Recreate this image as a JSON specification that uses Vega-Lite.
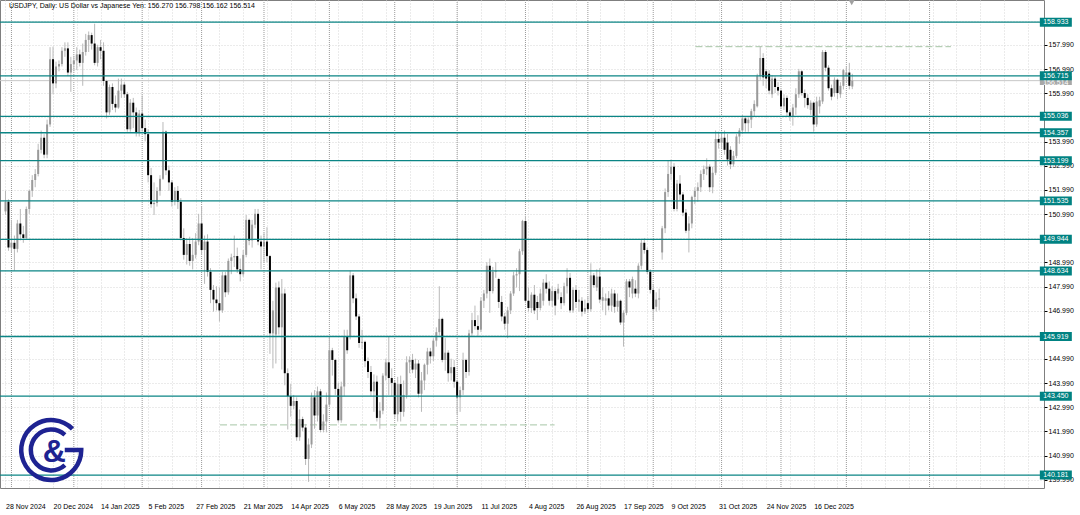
{
"$schema":"https://vega.github.io/schema/vega-lite/v6.json",
"width":1044,"height":488,"autosize":"none",
"padding":{"left":0,"top":0,"right":36,"bottom":27},
"background":"#ffffff",
"config":{"view":{"stroke":"#7f7f7f","strokeWidth":1},"font":"Liberation Sans","axis":{"labelOverlap":false,"labelBound":false,"labelFlush":false}},
"datasets":{
"seps":[{"s":2},{"s":23},{"s":46},{"s":66},{"s":87},{"s":109},{"s":131},{"s":152},{"s":175},{"s":196},{"s":218},{"s":241},{"s":261},{"s":283},{"s":311}],
"dash":[{"a":232.2,"b":318.2,"p":157.92},{"a":72.2,"b":184.8,"p":142.26}],
"levels":[{"v":158.933},{"v":156.715},{"v":155.036},{"v":154.357},{"v":153.199},{"v":151.535},{"v":149.944},{"v":148.634},{"v":145.919},{"v":143.45},{"v":140.181}],
"bid":[{"v":156.514}],
"bars":[
{"i":0,"o":151.1,"h":151.95,"l":150.95,"c":151.5},
{"i":1,"o":151.5,"h":151.6,"l":149.47,"c":149.6},
{"i":2,"o":149.6,"h":150.75,"l":149.4,"c":149.8},
{"i":3,"o":149.8,"h":150.1,"l":148.65,"c":149.55},
{"i":4,"o":149.55,"h":150.75,"l":149.4,"c":150.6},
{"i":5,"o":150.6,"h":151.2,"l":149.9,"c":150.15},
{"i":6,"o":150.15,"h":150.5,"l":149.8,"c":150.0},
{"i":7,"o":150.0,"h":151.3,"l":149.95,"c":151.2},
{"i":8,"o":151.2,"h":152.0,"l":151.0,"c":151.95},
{"i":9,"o":151.95,"h":152.6,"l":151.7,"c":152.4},
{"i":10,"o":152.4,"h":152.85,"l":152.1,"c":152.65},
{"i":11,"o":152.65,"h":153.9,"l":152.55,"c":153.65},
{"i":12,"o":153.65,"h":154.45,"l":153.5,"c":154.15},
{"i":13,"o":154.15,"h":154.3,"l":153.3,"c":153.45},
{"i":14,"o":153.45,"h":154.9,"l":153.3,"c":154.7},
{"i":15,"o":154.7,"h":157.9,"l":154.6,"c":157.4},
{"i":16,"o":157.4,"h":157.92,"l":155.95,"c":156.4},
{"i":17,"o":156.4,"h":157.3,"l":156.2,"c":157.1},
{"i":18,"o":157.1,"h":157.35,"l":156.9,"c":157.2},
{"i":19,"o":157.2,"h":157.9,"l":157.1,"c":157.75},
{"i":20,"o":157.75,"h":158.1,"l":157.5,"c":157.85},
{"i":21,"o":157.85,"h":158.1,"l":156.7,"c":156.85},
{"i":22,"o":156.85,"h":157.5,"l":156.05,"c":157.2},
{"i":23,"o":157.2,"h":157.55,"l":156.9,"c":157.35},
{"i":24,"o":157.35,"h":157.9,"l":156.95,"c":157.6},
{"i":25,"o":157.6,"h":157.8,"l":157.1,"c":157.25},
{"i":26,"o":157.25,"h":158.05,"l":156.3,"c":157.7},
{"i":27,"o":157.7,"h":158.45,"l":157.55,"c":158.2},
{"i":28,"o":158.2,"h":158.55,"l":157.7,"c":158.4},
{"i":29,"o":158.4,"h":158.5,"l":157.8,"c":158.05},
{"i":30,"o":158.05,"h":158.87,"l":157.15,"c":157.25},
{"i":31,"o":157.25,"h":158.0,"l":157.1,"c":157.9},
{"i":32,"o":157.9,"h":158.2,"l":157.4,"c":157.75},
{"i":33,"o":157.75,"h":158.1,"l":156.3,"c":156.5},
{"i":34,"o":156.5,"h":156.55,"l":154.95,"c":155.2},
{"i":35,"o":155.2,"h":156.35,"l":155.1,"c":156.25},
{"i":36,"o":156.25,"h":156.4,"l":155.3,"c":155.55},
{"i":37,"o":155.55,"h":155.9,"l":155.2,"c":155.4},
{"i":38,"o":155.4,"h":156.6,"l":155.35,"c":156.1},
{"i":39,"o":156.1,"h":156.6,"l":155.8,"c":156.35},
{"i":40,"o":156.35,"h":156.45,"l":155.8,"c":155.95},
{"i":41,"o":155.95,"h":156.05,"l":154.4,"c":154.5},
{"i":42,"o":154.5,"h":155.75,"l":154.4,"c":155.6},
{"i":43,"o":155.6,"h":155.8,"l":154.55,"c":155.2},
{"i":44,"o":155.2,"h":155.4,"l":154.2,"c":154.35},
{"i":45,"o":154.35,"h":155.3,"l":154.2,"c":155.15},
{"i":46,"o":155.15,"h":155.9,"l":154.4,"c":154.55},
{"i":47,"o":154.55,"h":154.9,"l":154.0,"c":154.3},
{"i":48,"o":154.3,"h":154.5,"l":152.3,"c":152.6},
{"i":49,"o":152.6,"h":152.9,"l":151.25,"c":151.4},
{"i":50,"o":151.4,"h":152.3,"l":150.95,"c":151.45},
{"i":51,"o":151.45,"h":152.1,"l":151.3,"c":151.95},
{"i":52,"o":151.95,"h":152.6,"l":151.75,"c":152.45},
{"i":53,"o":152.45,"h":154.8,"l":152.4,"c":154.4},
{"i":54,"o":154.4,"h":154.45,"l":152.6,"c":152.8},
{"i":55,"o":152.8,"h":153.0,"l":151.95,"c":152.3},
{"i":56,"o":152.3,"h":152.4,"l":151.3,"c":151.5},
{"i":57,"o":151.5,"h":152.1,"l":151.35,"c":151.95},
{"i":58,"o":151.95,"h":152.15,"l":151.2,"c":151.5},
{"i":59,"o":151.5,"h":151.65,"l":149.9,"c":150.0},
{"i":60,"o":150.0,"h":150.4,"l":149.1,"c":149.3},
{"i":61,"o":149.3,"h":150.0,"l":148.9,"c":149.75},
{"i":62,"o":149.75,"h":150.05,"l":148.85,"c":149.05},
{"i":63,"o":149.05,"h":150.0,"l":148.7,"c":149.3},
{"i":64,"o":149.3,"h":150.2,"l":149.15,"c":149.85},
{"i":65,"o":149.85,"h":151.0,"l":149.7,"c":150.6},
{"i":66,"o":150.6,"h":151.3,"l":149.3,"c":149.5},
{"i":67,"o":149.5,"h":150.1,"l":148.1,"c":149.85},
{"i":68,"o":149.85,"h":150.15,"l":148.4,"c":148.6},
{"i":69,"o":148.6,"h":148.75,"l":147.3,"c":147.85},
{"i":70,"o":147.85,"h":148.05,"l":146.95,"c":147.45},
{"i":71,"o":147.45,"h":148.0,"l":147.0,"c":147.3},
{"i":72,"o":147.3,"h":147.95,"l":146.54,"c":147.0},
{"i":73,"o":147.0,"h":148.6,"l":146.9,"c":148.45},
{"i":74,"o":148.45,"h":148.6,"l":147.55,"c":147.75},
{"i":75,"o":147.75,"h":149.15,"l":147.65,"c":149.05},
{"i":76,"o":149.05,"h":149.35,"l":148.5,"c":149.2},
{"i":77,"o":149.2,"h":150.1,"l":148.8,"c":149.25},
{"i":78,"o":149.25,"h":149.6,"l":148.55,"c":148.7},
{"i":79,"o":148.7,"h":149.15,"l":148.2,"c":148.5},
{"i":80,"o":148.5,"h":149.5,"l":148.4,"c":149.3},
{"i":81,"o":149.3,"h":150.95,"l":149.2,"c":150.75},
{"i":82,"o":150.75,"h":150.8,"l":149.7,"c":149.9},
{"i":83,"o":149.9,"h":150.75,"l":149.6,"c":150.55},
{"i":84,"o":150.55,"h":151.2,"l":150.4,"c":151.0},
{"i":85,"o":151.0,"h":151.2,"l":149.7,"c":149.85},
{"i":86,"o":149.85,"h":150.1,"l":148.7,"c":149.65},
{"i":87,"o":149.65,"h":150.2,"l":149.0,"c":149.85},
{"i":88,"o":149.85,"h":150.45,"l":149.0,"c":149.25},
{"i":89,"o":149.25,"h":149.3,"l":145.2,"c":146.05},
{"i":90,"o":146.05,"h":147.4,"l":144.6,"c":147.0},
{"i":91,"o":146.0,"h":148.15,"l":144.8,"c":147.95},
{"i":92,"o":147.95,"h":148.2,"l":146.0,"c":146.3},
{"i":93,"o":146.3,"h":148.3,"l":144.55,"c":147.7},
{"i":94,"o":147.7,"h":147.9,"l":143.9,"c":144.4},
{"i":95,"o":144.4,"h":144.6,"l":142.07,"c":143.45},
{"i":96,"o":143.45,"h":143.95,"l":142.6,"c":143.05},
{"i":97,"o":143.05,"h":143.5,"l":142.9,"c":143.25},
{"i":98,"o":143.25,"h":143.4,"l":141.6,"c":141.75},
{"i":99,"o":141.75,"h":142.9,"l":141.6,"c":142.5},
{"i":100,"o":142.5,"h":142.6,"l":142.0,"c":142.15},
{"i":101,"o":142.15,"h":142.3,"l":140.6,"c":140.85},
{"i":102,"o":140.85,"h":141.7,"l":139.9,"c":141.45},
{"i":103,"o":141.45,"h":143.6,"l":141.3,"c":143.4},
{"i":104,"o":143.4,"h":143.7,"l":142.1,"c":142.65},
{"i":105,"o":142.65,"h":143.85,"l":142.4,"c":143.65},
{"i":106,"o":143.65,"h":143.75,"l":141.95,"c":142.05},
{"i":107,"o":142.05,"h":142.7,"l":141.95,"c":142.4},
{"i":108,"o":142.4,"h":143.6,"l":141.95,"c":143.1},
{"i":109,"o":143.1,"h":145.9,"l":143.0,"c":145.35},
{"i":110,"o":145.35,"h":145.45,"l":144.3,"c":144.95},
{"i":111,"o":144.95,"h":145.0,"l":143.5,"c":143.75},
{"i":112,"o":143.75,"h":144.0,"l":142.35,"c":142.45},
{"i":113,"o":142.45,"h":144.05,"l":142.35,"c":143.85},
{"i":114,"o":143.85,"h":146.2,"l":143.45,"c":145.9},
{"i":115,"o":145.9,"h":146.2,"l":145.2,"c":145.35},
{"i":116,"o":145.9,"h":148.65,"l":145.8,"c":148.45},
{"i":117,"o":148.45,"h":148.55,"l":147.3,"c":147.5},
{"i":118,"o":147.5,"h":147.7,"l":146.6,"c":146.75},
{"i":119,"o":146.75,"h":146.85,"l":145.45,"c":145.65},
{"i":120,"o":145.65,"h":146.2,"l":145.4,"c":145.7},
{"i":121,"o":145.7,"h":145.75,"l":144.65,"c":144.9},
{"i":122,"o":144.9,"h":145.05,"l":144.2,"c":144.45},
{"i":123,"o":144.45,"h":144.7,"l":143.45,"c":143.65},
{"i":124,"o":143.65,"h":144.35,"l":142.8,"c":144.05},
{"i":125,"o":144.05,"h":144.3,"l":142.4,"c":142.55},
{"i":126,"o":142.55,"h":143.2,"l":142.1,"c":142.85},
{"i":127,"o":142.85,"h":144.4,"l":142.7,"c":144.3},
{"i":128,"o":144.3,"h":145.0,"l":144.1,"c":144.85},
{"i":129,"o":144.85,"h":145.9,"l":143.5,"c":144.2},
{"i":130,"o":144.2,"h":144.6,"l":143.45,"c":144.0},
{"i":131,"o":144.0,"h":144.1,"l":142.55,"c":142.7},
{"i":132,"o":142.7,"h":144.25,"l":142.4,"c":143.95},
{"i":133,"o":143.95,"h":144.3,"l":142.4,"c":142.8},
{"i":134,"o":142.8,"h":144.1,"l":142.6,"c":143.5},
{"i":135,"o":143.5,"h":145.1,"l":143.35,"c":144.85},
{"i":136,"o":144.85,"h":145.1,"l":144.4,"c":144.95},
{"i":137,"o":144.95,"h":145.2,"l":144.4,"c":144.55},
{"i":138,"o":144.55,"h":145.0,"l":144.2,"c":144.8},
{"i":139,"o":144.8,"h":144.95,"l":143.4,"c":143.55},
{"i":140,"o":143.55,"h":144.45,"l":142.8,"c":144.1},
{"i":141,"o":144.1,"h":144.8,"l":143.7,"c":144.75},
{"i":142,"o":144.75,"h":145.45,"l":144.35,"c":145.3},
{"i":143,"o":145.3,"h":145.45,"l":144.8,"c":145.1},
{"i":144,"o":145.1,"h":145.85,"l":144.9,"c":145.75},
{"i":145,"o":145.75,"h":146.3,"l":145.5,"c":146.1},
{"i":146,"o":146.1,"h":148.0,"l":145.95,"c":146.65},
{"i":147,"o":146.65,"h":146.7,"l":144.85,"c":144.95},
{"i":148,"o":144.95,"h":145.85,"l":144.5,"c":145.25},
{"i":149,"o":145.25,"h":145.35,"l":144.05,"c":144.4},
{"i":150,"o":144.4,"h":145.0,"l":144.1,"c":144.65},
{"i":151,"o":144.65,"h":144.95,"l":143.8,"c":144.05},
{"i":152,"o":144.05,"h":144.1,"l":142.7,"c":143.4},
{"i":153,"o":143.4,"h":143.85,"l":142.8,"c":143.7},
{"i":154,"o":143.7,"h":145.25,"l":143.5,"c":144.95},
{"i":155,"o":144.95,"h":145.0,"l":144.2,"c":144.45},
{"i":156,"o":144.45,"h":146.2,"l":144.3,"c":146.05},
{"i":157,"o":146.05,"h":146.9,"l":145.9,"c":146.6},
{"i":158,"o":146.6,"h":147.2,"l":146.2,"c":146.35},
{"i":159,"o":146.35,"h":146.8,"l":145.9,"c":146.2},
{"i":160,"o":146.2,"h":147.55,"l":146.1,"c":147.4},
{"i":161,"o":147.4,"h":147.85,"l":147.1,"c":147.7},
{"i":162,"o":147.7,"h":149.0,"l":147.5,"c":148.85},
{"i":163,"o":148.85,"h":149.15,"l":146.9,"c":147.8},
{"i":164,"o":147.8,"h":148.8,"l":147.7,"c":148.6},
{"i":165,"o":148.6,"h":149.0,"l":148.35,"c":148.65},
{"i":166,"o":148.3,"h":148.35,"l":147.1,"c":147.35},
{"i":167,"o":147.35,"h":147.6,"l":146.55,"c":146.75},
{"i":168,"o":146.75,"h":146.9,"l":146.2,"c":146.45},
{"i":169,"o":146.45,"h":147.15,"l":145.85,"c":147.0},
{"i":170,"o":147.0,"h":147.8,"l":146.85,"c":147.7},
{"i":171,"o":147.7,"h":148.6,"l":147.6,"c":148.45},
{"i":172,"o":148.45,"h":148.75,"l":147.95,"c":148.5},
{"i":173,"o":148.5,"h":149.55,"l":147.8,"c":149.45},
{"i":174,"o":149.45,"h":150.75,"l":149.3,"c":150.7},
{"i":175,"o":150.7,"h":150.92,"l":147.3,"c":147.4},
{"i":176,"o":147.4,"h":147.95,"l":146.95,"c":147.1},
{"i":177,"o":147.1,"h":147.75,"l":146.9,"c":147.65},
{"i":178,"o":147.65,"h":148.05,"l":146.85,"c":147.0},
{"i":179,"o":147.35,"h":147.6,"l":146.6,"c":147.1},
{"i":180,"o":147.1,"h":147.9,"l":147.0,"c":147.7},
{"i":181,"o":147.4,"h":148.3,"l":147.2,"c":148.15},
{"i":182,"o":148.15,"h":148.5,"l":147.7,"c":147.9},
{"i":183,"o":147.9,"h":148.2,"l":147.2,"c":147.4},
{"i":184,"o":147.4,"h":148.0,"l":147.15,"c":147.8},
{"i":185,"o":147.8,"h":147.9,"l":146.8,"c":147.2},
{"i":186,"o":147.7,"h":148.1,"l":147.45,"c":147.9},
{"i":187,"o":147.55,"h":147.75,"l":147.05,"c":147.3},
{"i":188,"o":147.3,"h":148.15,"l":147.2,"c":148.0},
{"i":189,"o":148.0,"h":148.75,"l":147.7,"c":148.35},
{"i":190,"o":148.35,"h":148.55,"l":146.9,"c":147.0},
{"i":191,"o":147.0,"h":147.95,"l":146.9,"c":147.85},
{"i":192,"o":147.85,"h":148.05,"l":147.1,"c":147.35},
{"i":193,"o":147.35,"h":147.85,"l":146.95,"c":147.45},
{"i":194,"o":147.4,"h":147.55,"l":146.75,"c":146.95},
{"i":195,"o":146.95,"h":147.45,"l":146.85,"c":147.1},
{"i":196,"o":147.3,"h":147.6,"l":146.9,"c":147.05},
{"i":197,"o":147.05,"h":148.95,"l":146.95,"c":148.45},
{"i":198,"o":148.45,"h":148.55,"l":147.95,"c":148.05},
{"i":199,"o":147.95,"h":148.7,"l":147.8,"c":148.4},
{"i":200,"o":148.4,"h":148.75,"l":147.3,"c":147.45},
{"i":201,"o":147.4,"h":147.95,"l":147.0,"c":147.55},
{"i":202,"o":147.4,"h":147.7,"l":146.8,"c":147.5},
{"i":203,"o":147.5,"h":147.8,"l":147.0,"c":147.2},
{"i":204,"o":147.2,"h":147.9,"l":146.95,"c":147.7},
{"i":205,"o":147.7,"h":147.85,"l":146.9,"c":147.15},
{"i":206,"o":147.15,"h":147.7,"l":146.95,"c":147.4},
{"i":207,"o":147.4,"h":147.45,"l":146.4,"c":146.5},
{"i":208,"o":146.5,"h":147.0,"l":145.5,"c":146.9},
{"i":209,"o":146.9,"h":148.3,"l":146.8,"c":148.2},
{"i":210,"o":148.2,"h":148.3,"l":147.55,"c":147.95},
{"i":211,"o":147.7,"h":148.4,"l":147.5,"c":148.3},
{"i":212,"o":147.9,"h":148.25,"l":147.55,"c":147.7},
{"i":213,"o":147.7,"h":148.95,"l":147.5,"c":148.85},
{"i":214,"o":148.85,"h":149.95,"l":148.7,"c":149.8},
{"i":215,"o":149.8,"h":150.0,"l":149.35,"c":149.5},
{"i":216,"o":149.5,"h":149.6,"l":148.5,"c":148.6},
{"i":217,"o":148.6,"h":148.7,"l":147.7,"c":147.85},
{"i":218,"o":147.85,"h":148.1,"l":146.6,"c":147.05},
{"i":219,"o":147.15,"h":147.75,"l":146.95,"c":147.45},
{"i":220,"o":147.45,"h":147.9,"l":147.0,"c":147.5},
{"i":221,"o":149.4,"h":150.5,"l":149.1,"c":150.4},
{"i":222,"o":150.4,"h":152.05,"l":150.2,"c":151.9},
{"i":223,"o":151.9,"h":153.2,"l":151.7,"c":152.65},
{"i":224,"o":152.65,"h":153.25,"l":152.4,"c":152.95},
{"i":225,"o":152.95,"h":153.1,"l":151.1,"c":151.2},
{"i":226,"o":151.2,"h":152.4,"l":151.1,"c":152.25},
{"i":227,"o":152.25,"h":152.6,"l":151.55,"c":151.8},
{"i":228,"o":151.8,"h":151.9,"l":150.9,"c":151.05},
{"i":229,"o":151.05,"h":151.2,"l":150.2,"c":150.3},
{"i":230,"o":150.3,"h":150.9,"l":149.4,"c":150.6},
{"i":231,"o":150.6,"h":151.75,"l":150.4,"c":151.7},
{"i":232,"o":151.7,"h":152.1,"l":151.4,"c":151.95},
{"i":233,"o":151.95,"h":152.3,"l":151.5,"c":152.1},
{"i":234,"o":152.1,"h":152.8,"l":151.9,"c":152.65},
{"i":235,"o":152.65,"h":153.0,"l":152.4,"c":152.85},
{"i":236,"o":152.85,"h":153.3,"l":152.6,"c":152.95},
{"i":237,"o":152.95,"h":153.05,"l":151.9,"c":152.1},
{"i":238,"o":152.1,"h":152.95,"l":151.85,"c":152.7},
{"i":239,"o":152.7,"h":154.45,"l":152.6,"c":154.1},
{"i":240,"o":154.1,"h":154.4,"l":153.7,"c":153.95},
{"i":241,"o":153.95,"h":154.4,"l":153.7,"c":154.15},
{"i":242,"o":154.15,"h":154.45,"l":153.45,"c":153.65},
{"i":243,"o":153.95,"h":154.3,"l":153.0,"c":153.25},
{"i":244,"o":153.65,"h":153.8,"l":152.85,"c":153.05},
{"i":245,"o":153.05,"h":153.6,"l":152.95,"c":153.4},
{"i":246,"o":153.4,"h":154.3,"l":153.3,"c":154.2},
{"i":247,"o":154.2,"h":154.55,"l":153.9,"c":154.45},
{"i":248,"o":154.45,"h":155.1,"l":154.3,"c":154.95},
{"i":249,"o":154.95,"h":155.05,"l":154.4,"c":154.75},
{"i":250,"o":154.75,"h":155.0,"l":154.4,"c":154.9},
{"i":251,"o":154.9,"h":155.35,"l":154.55,"c":155.25},
{"i":252,"o":155.25,"h":155.7,"l":155.05,"c":155.55},
{"i":253,"o":155.45,"h":156.8,"l":155.4,"c":156.7},
{"i":254,"o":156.7,"h":157.92,"l":156.55,"c":157.45},
{"i":255,"o":157.45,"h":157.65,"l":156.3,"c":156.65},
{"i":256,"o":156.9,"h":157.0,"l":156.2,"c":156.6},
{"i":257,"o":156.8,"h":156.95,"l":155.95,"c":156.1},
{"i":258,"o":155.95,"h":156.75,"l":155.8,"c":156.6},
{"i":259,"o":156.6,"h":156.7,"l":156.0,"c":156.25},
{"i":260,"o":156.25,"h":156.45,"l":155.9,"c":156.1},
{"i":261,"o":156.1,"h":156.15,"l":155.35,"c":155.45},
{"i":262,"o":155.45,"h":155.95,"l":155.3,"c":155.8},
{"i":263,"o":155.8,"h":155.9,"l":155.05,"c":155.2},
{"i":264,"o":155.2,"h":155.3,"l":154.85,"c":155.05},
{"i":265,"o":155.05,"h":155.55,"l":154.65,"c":155.4},
{"i":266,"o":155.4,"h":156.2,"l":155.1,"c":155.95},
{"i":267,"o":155.95,"h":157.0,"l":155.8,"c":156.9},
{"i":268,"o":156.9,"h":156.95,"l":155.9,"c":156.0},
{"i":269,"o":156.0,"h":156.15,"l":155.4,"c":155.8},
{"i":270,"o":155.8,"h":155.95,"l":155.35,"c":155.5},
{"i":271,"o":155.3,"h":155.7,"l":155.1,"c":155.6},
{"i":272,"o":155.6,"h":155.65,"l":154.4,"c":154.7},
{"i":273,"o":154.7,"h":155.85,"l":154.6,"c":155.65},
{"i":274,"o":155.45,"h":155.85,"l":155.15,"c":155.7},
{"i":275,"o":155.65,"h":157.78,"l":155.55,"c":157.7},
{"i":276,"o":157.7,"h":157.78,"l":156.9,"c":157.05},
{"i":277,"o":157.05,"h":157.15,"l":156.1,"c":156.2},
{"i":278,"o":156.2,"h":156.35,"l":155.7,"c":155.85},
{"i":279,"o":156.0,"h":156.65,"l":155.85,"c":156.55},
{"i":280,"o":156.55,"h":156.6,"l":155.75,"c":156.0},
{"i":281,"o":155.95,"h":156.45,"l":155.8,"c":156.3},
{"i":282,"o":156.3,"h":157.0,"l":156.15,"c":156.95},
{"i":283,"o":156.7,"h":157.1,"l":156.45,"c":156.85},
{"i":284,"o":156.85,"h":157.25,"l":156.15,"c":156.3},
{"i":285,"o":156.27,"h":156.798,"l":156.162,"c":156.514}
]},
"layer":[
{"data":{"name":"seps"},"mark":{"type":"rule","stroke":"#9a9a9a","strokeDash":[1,1],"strokeWidth":1},
 "encoding":{"x":{"field":"s","type":"quantitative",
  "scale":{"domain":[-0.1667,347.8333],"nice":false,"zero":false},
  "axis":{"orient":"bottom","tickCount":200,"values":[0,8,16,24,32,40,48,56,64,72,80,88,96,104,112,120,128,136,144,152,160,168,176,184,192,200,208,216,224,232,240,248,256,264,272,280,288,296,304,312,320,328,336,344],
   "labelExpr":"(datum.value % 16 == 0 && datum.value <= 272) ? ['28 Nov 2024','20 Dec 2024','14 Jan 2025','5 Feb 2025','27 Feb 2025','21 Mar 2025','14 Apr 2025','6 May 2025','28 May 2025','19 Jun 2025','11 Jul 2025','4 Aug 2025','26 Aug 2025','17 Sep 2025','9 Oct 2025','31 Oct 2025','24 Nov 2025','16 Dec 2025'][datum.value / 16] : ''",
   "grid":true,"gridColor":"#d6d6d6","gridDash":[1,2],"ticks":false,"domain":false,"labelAlign":"left","labelBaseline":"top","labelPadding":14,"labelFont":"Liberation Sans","labelFontSize":7,"labelColor":"#000000","labelOverlap":false,"labelBound":false,"labelFlush":false,"title":null}}}},
{"data":{"name":"dash"},"mark":{"type":"rule","stroke":"#a6c6a6","strokeDash":[7,3],"strokeWidth":1},
 "encoding":{"x":{"field":"a","type":"quantitative"},"x2":{"field":"b"},"y":{"field":"p","type":"quantitative"}}},
{"data":{"name":"bid"},"mark":{"type":"rule","stroke":"#c8c8c8","strokeWidth":1},
 "encoding":{"y":{"field":"v","type":"quantitative"}}},
{"data":{"name":"bars"},"mark":{"type":"rule","stroke":"#b9b9b9","strokeWidth":1},
 "encoding":{"x":{"field":"i","type":"quantitative"},
  "y":{"field":"l","type":"quantitative","scale":{"domain":[139.647,159.853],"nice":false,"zero":false},
   "axis":{"orient":"right","tickCount":200,"values":[139.99,140.99,141.99,142.99,143.99,144.99,145.99,146.99,147.99,148.99,149.99,150.99,151.99,152.99,153.99,154.99,155.99,156.99,157.99,158.99],"format":".3f",
    "labelExpr":"(abs(datum.value-145.99)<0.01 || abs(datum.value-149.99)<0.01 || abs(datum.value-154.99)<0.01 || abs(datum.value-158.99)<0.01) ? '' : format(datum.value, '.3f')",
    "grid":true,"gridColor":"#d6d6d6","gridDash":[1,2],"tickSize":3,"tickColor":"#000000","domain":false,"labelPadding":1,"labelFont":"Liberation Sans","labelFontSize":7,"labelColor":"#000000","labelBaseline":"middle","labelOverlap":false,"labelBound":false,"labelFlush":false,"title":null}},
  "y2":{"field":"h"}}},
{"data":{"name":"bars"},"mark":{"type":"bar","width":2},
 "encoding":{"x":{"field":"i","type":"quantitative"},"y":{"field":"o","type":"quantitative"},"y2":{"field":"c"},
  "color":{"condition":{"test":"datum.c > datum.o","value":"#9a9a9a"},"value":"#000000"}}},
{"data":{"name":"levels"},"mark":{"type":"rule","stroke":"#0b8585","strokeWidth":1.3},
 "encoding":{"y":{"field":"v","type":"quantitative"}}},
{"data":{"name":"bid"},"mark":{"type":"point","shape":"M-1,-0.28L1,-0.28L1,0.28L-1,0.28Z","filled":true,"fill":"#a8a8a8","size":1024,"opacity":1,"strokeWidth":0},
 "encoding":{"x":{"datum":353.5,"type":"quantitative"},"y":{"field":"v","type":"quantitative"}}},
{"data":{"name":"bid"},"mark":{"type":"text","fill":"#ffffff","fontSize":7,"font":"Liberation Sans","align":"center","baseline":"middle","dy":2},
 "encoding":{"x":{"datum":353.5,"type":"quantitative"},"y":{"field":"v","type":"quantitative"},"text":{"field":"v","format":".3f"}}},
{"data":{"name":"levels"},"mark":{"type":"point","shape":"M-1,-0.28L1,-0.28L1,0.28L-1,0.28Z","filled":true,"fill":"#008282","size":1024,"opacity":1,"strokeWidth":0},
 "encoding":{"x":{"datum":353.5,"type":"quantitative"},"y":{"field":"v","type":"quantitative"}}},
{"data":{"name":"levels"},"mark":{"type":"text","fill":"#ffffff","fontSize":7,"font":"Liberation Sans","align":"center","baseline":"middle"},
 "encoding":{"x":{"datum":353.5,"type":"quantitative"},"y":{"field":"v","type":"quantitative"},"text":{"field":"v","format":".3f"}}},
{"data":{"values":[{"t":"USDJPY, Daily:  US Dollar vs Japanese Yen: 156.270 156.798 156.162 156.514"}]},
 "mark":{"type":"text","fill":"#000000","fontSize":7,"font":"Liberation Sans","align":"left","baseline":"middle"},
 "encoding":{"x":{"datum":1.2,"type":"quantitative"},"y":{"datum":159.6,"type":"quantitative"},"text":{"field":"t"}}},
{"data":{"values":[{"t":"&"}]},
 "mark":{"type":"point","shape":"M0.707,-0.707A1,1,0,1,0,1,0L0.45,0M0.455,-0.505A0.68,0.68,0,1,0,0.455,0.505","filled":false,"stroke":"#1e2392","strokeWidth":4.5,"size":3600,"opacity":1},
 "encoding":{"x":{"datum":15.4,"type":"quantitative"},"y":{"datum":141.22,"type":"quantitative"}}},
{"data":{"values":[{"t":"&"}]},
 "mark":{"type":"text","fill":"#1e2392","fontSize":32,"fontWeight":"bold","font":"Liberation Sans","align":"center","baseline":"middle"},
 "encoding":{"x":{"datum":16.4,"type":"quantitative"},"y":{"datum":141.15,"type":"quantitative"},"text":{"field":"t"}}},
{"data":{"values":[{"t":"m"}]},
 "mark":{"type":"point","shape":"triangle-down","filled":true,"fill":"#a0a0a0","size":40,"opacity":1,"strokeWidth":0},
 "encoding":{"x":{"datum":284.8,"type":"quantitative"},"y":{"datum":159.75,"type":"quantitative"}}}
]
}
